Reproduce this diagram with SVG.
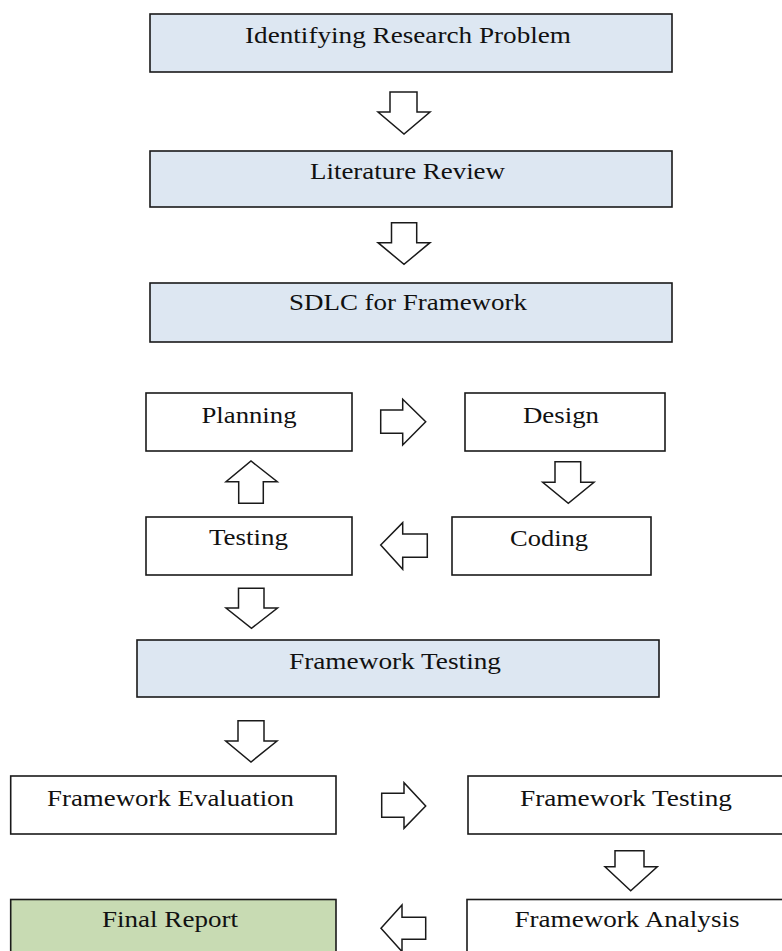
<svg xmlns="http://www.w3.org/2000/svg" width="782" height="951" viewBox="0 0 782 951">
<style>
.box{stroke:#1a1a1a;stroke-width:1.6;}
.blue{fill:#dde7f2;}
.white{fill:#ffffff;}
.green{fill:#c8dbb3;}
.lbl{font-family:"Liberation Serif","Times New Roman",serif;font-size:24px;fill:#111;text-anchor:middle;}
.arr{fill:#ffffff;stroke:#1a1a1a;stroke-width:1.5;stroke-linejoin:miter;}
</style>
<rect x="0" y="0" width="782" height="951" fill="#ffffff"/>
<g id="connectors">
<polygon class="arr" points="390,92 417,92 417,112 430,112 404,134 378,112 390,112"/>
<polygon class="arr" points="391.5,222.7 416.7,222.7 416.7,242.7 430,242.7 404,264.3 378,242.7 391.5,242.7"/>
<polygon class="arr" points="380.7,410 402.7,410 402.7,399.3 425.7,421.7 402.7,445 402.7,433.3 380.7,433.3"/>
<polygon class="arr" points="555,461.7 580.7,461.7 580.7,482.3 594,482.3 568.3,503.3 542.7,482.3 555,482.3"/>
<polygon class="arr" points="427.3,534 402.7,534 402.7,522.7 380.7,545 402.7,569.3 402.7,557.3 427.3,557.3"/>
<polygon class="arr" points="238.7,503.3 263.3,503.3 263.3,481.7 277.3,481.7 251,461 226,481.7 238.7,481.7"/>
<polygon class="arr" points="238.5,588.3 264,588.3 264,608 277.5,608 251.5,628.3 226,608 238.5,608"/>
<polygon class="arr" points="238,720.7 264,720.7 264,741 277,741 251,762 225.7,741 238,741"/>
<polygon class="arr" points="381.7,793.3 404,793.3 404,782.7 425.7,806 404,828.3 404,817.3 381.7,817.3"/>
<polygon class="arr" points="615,850.7 644,850.7 644,866.7 657.3,866.7 630.7,890.7 605,866.7 615,866.7"/>
<polygon class="arr" points="425.7,917.3 402,917.3 402,905 381,928.3 402,951.6 402,939.3 425.7,939.3"/>
</g>
<g id="identifying">
<rect class="box blue" x="150" y="14" width="522" height="58"/>
<text class="lbl" x="408" y="43" textLength="326" lengthAdjust="spacingAndGlyphs">Identifying Research Problem</text>
</g>
<g id="literature">
<rect class="box blue" x="150" y="151" width="522" height="56"/>
<text class="lbl" x="407.5" y="179" textLength="195" lengthAdjust="spacingAndGlyphs">Literature Review</text>
</g>
<g id="sdlc">
<rect class="box blue" x="150" y="283" width="522" height="59"/>
<text class="lbl" x="408" y="310" textLength="238" lengthAdjust="spacingAndGlyphs">SDLC for Framework</text>
</g>
<g id="planning">
<rect class="box white" x="146" y="393" width="206" height="58"/>
<text class="lbl" x="249" y="422.7" textLength="95" lengthAdjust="spacingAndGlyphs">Planning</text>
</g>
<g id="design">
<rect class="box white" x="465" y="393" width="200" height="58"/>
<text class="lbl" x="561" y="423.3" textLength="76" lengthAdjust="spacingAndGlyphs">Design</text>
</g>
<g id="testing">
<rect class="box white" x="146" y="517" width="206" height="58"/>
<text class="lbl" x="248.5" y="545" textLength="79" lengthAdjust="spacingAndGlyphs">Testing</text>
</g>
<g id="coding">
<rect class="box white" x="452" y="517" width="199" height="58"/>
<text class="lbl" x="549" y="546" textLength="78" lengthAdjust="spacingAndGlyphs">Coding</text>
</g>
<g id="framework-testing">
<rect class="box blue" x="137" y="640" width="522" height="57"/>
<text class="lbl" x="395" y="669" textLength="212" lengthAdjust="spacingAndGlyphs">Framework Testing</text>
</g>
<g id="framework-evaluation">
<rect class="box white" x="10.7" y="776" width="325.3" height="58"/>
<text class="lbl" x="170.5" y="806" textLength="247" lengthAdjust="spacingAndGlyphs">Framework Evaluation</text>
</g>
<g id="framework-testing-2">
<rect class="box white" x="468" y="776" width="330" height="58"/>
<text class="lbl" x="626" y="806" textLength="212" lengthAdjust="spacingAndGlyphs">Framework Testing</text>
</g>
<g id="final-report">
<rect class="box green" x="10.7" y="899.5" width="325.3" height="60"/>
<text class="lbl" x="170" y="927" textLength="136" lengthAdjust="spacingAndGlyphs">Final Report</text>
</g>
<g id="framework-analysis">
<rect class="box white" x="467" y="899.5" width="330" height="60"/>
<text class="lbl" x="627" y="927" textLength="225" lengthAdjust="spacingAndGlyphs">Framework Analysis</text>
</g>
</svg>
